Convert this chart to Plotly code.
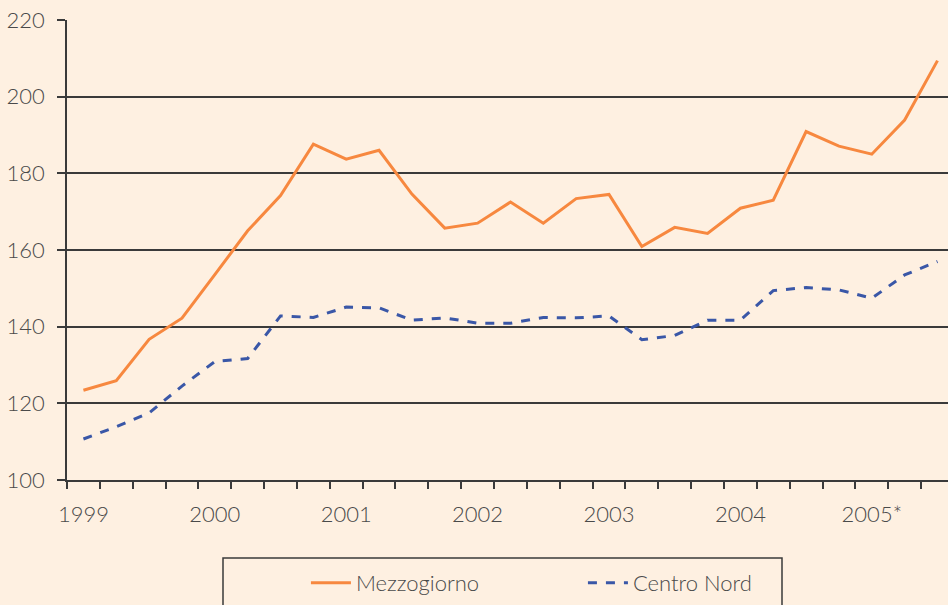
import plotly.graph_objects as go

quarters = [f"{y} T{q}" for y in range(1999, 2006) for q in range(1, 5)][:27]
year_labels = ["1999", "2000", "2001", "2002", "2003", "2004", "2005*"]

mezzogiorno = [123.4, 125.9, 136.7, 142.2, 153.6, 165.0, 174.2, 187.6,
               183.7, 186.0, 174.6, 165.7, 167.0, 172.5, 167.0, 173.4,
               174.5, 160.9, 165.9, 164.3, 170.9, 173.0, 190.9, 187.1,
               185.0, 193.9, 209.4]
centro_nord = [110.7, 113.9, 117.5, 124.5, 130.9, 131.7, 142.8, 142.4,
               145.1, 144.9, 141.7, 142.3, 140.9, 140.9, 142.4, 142.3,
               142.8, 136.6, 137.7, 141.7, 141.7, 149.4, 150.2, 149.6,
               147.4, 153.5, 157.0]

ticktext = [year_labels[i // 4] if i % 4 == 0 else "" for i in range(len(quarters))]

BG = "#FEF0E1"
GRID = "#3a3a3a"
TXT = "#4a4a4a"
FONT = "Lato"

fig = go.Figure()
fig.add_trace(go.Scatter(x=quarters, y=mezzogiorno, mode="lines", name="Mezzogiorno",
                         line=dict(color="#F7883F", width=3)))
fig.add_trace(go.Scatter(x=quarters, y=centro_nord, mode="lines", name="Centro Nord",
                         line=dict(color="#3A57A7", width=3, dash="9px,9px")))

fig.update_layout(
    width=948, height=605,
    margin=dict(l=67, r=0, t=20, b=125, autoexpand=False),
    paper_bgcolor=BG, plot_bgcolor=BG,
    font=dict(family=FONT, size=22, color=TXT, weight=300),
    showlegend=True,
    legend=dict(orientation="h", x=0.2712, xanchor="left", y=-0.224, yanchor="middle",
                xref="paper", yref="paper", bgcolor="rgba(0,0,0,0)",
                font=dict(family=FONT, size=22, color=TXT, weight=300),
                entrywidth=222, itemwidth=40),
    shapes=[dict(type="rect", xref="paper", yref="paper",
                 x0=(223 - 67) / 881, x1=(782 - 67) / 881,
                 y0=(480 - 558) / 460, y1=(480 - 640) / 460,
                 line=dict(color=GRID, width=1.5), fillcolor="rgba(0,0,0,0)")],
)

fig.update_xaxes(type="category", categoryorder="array", categoryarray=quarters,
                 range=[-0.5, 26.32], tickmode="array", tickvals=quarters, ticktext=ticktext,
                 tickson="boundaries", ticks="outside", ticklen=7, tickwidth=1.5,
                 tickcolor=GRID, showline=True, linecolor=GRID, linewidth=1.5,
                 showgrid=False, ticklabelstandoff=14, tickangle=0, automargin=False,
                 tickfont=dict(family=FONT, size=22, color=TXT, weight=300))
fig.update_yaxes(range=[100, 220], tickmode="linear", tick0=100, dtick=20,
                 ticks="outside", ticklen=8, tickwidth=1.5, tickcolor=GRID,
                 showline=True, linecolor=GRID, linewidth=1.5,
                 showgrid=True, gridcolor=GRID, gridwidth=1.5, zeroline=False,
                 ticklabelstandoff=8, automargin=False,
                 tickfont=dict(family=FONT, size=22, color=TXT, weight=300))

fig.write_html("out.html", config={"displayModeBar": False},
               post_script="document.body.style.margin='0';document.body.style.overflow='hidden';")
